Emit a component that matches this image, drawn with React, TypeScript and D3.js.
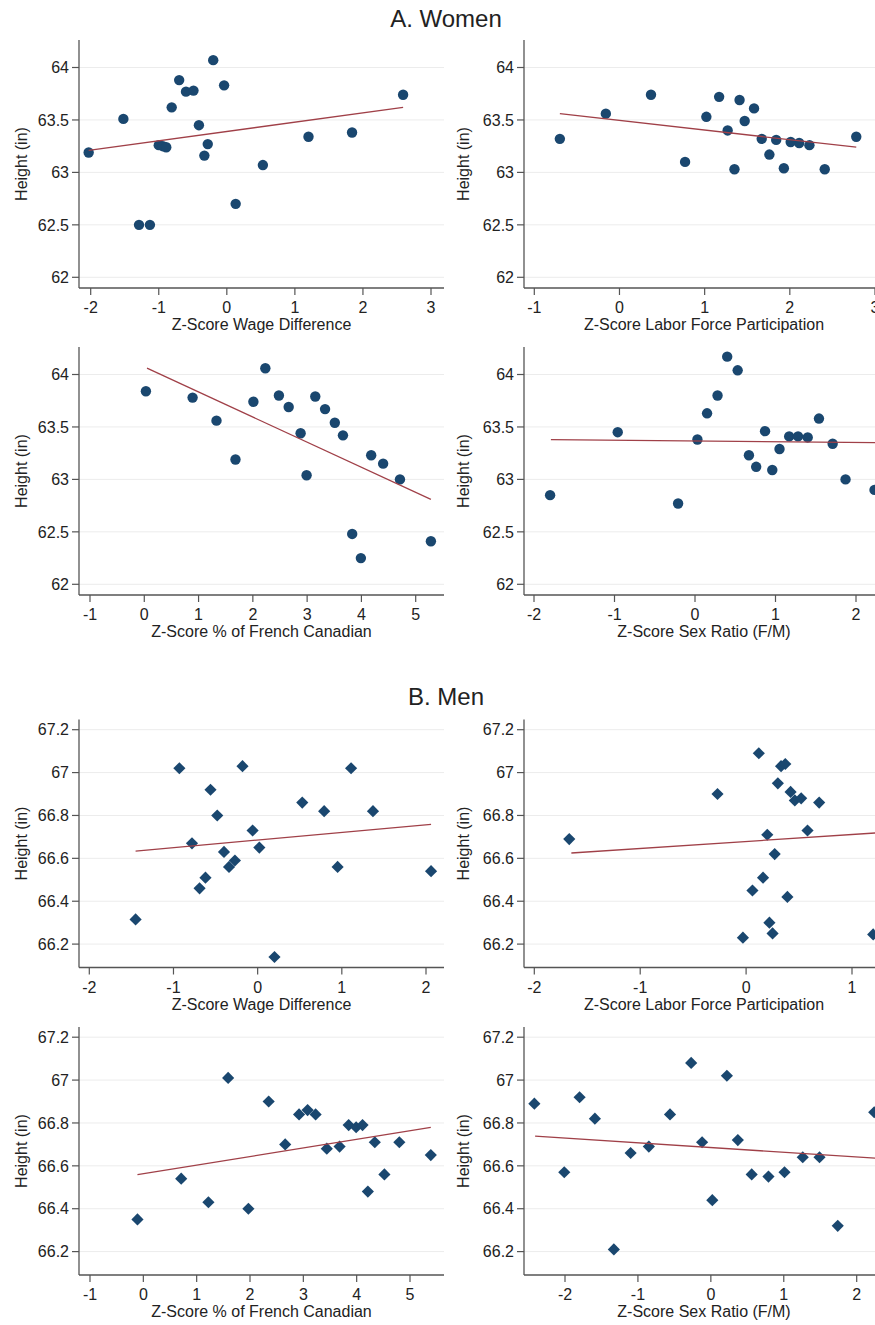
import * as d3 from "d3";

// ---- data ----

// A. Women
const womenWageX = [-2.03, -1.52, -1.29, -1.13, -0.7, -0.6, -0.49, -0.81, -0.41, -1.0, -0.94, -0.89, -0.28, -0.33, -0.2, -0.04, 0.13, 0.53, 1.2, 1.84, 2.59];
const womenWageY = [63.19, 63.51, 62.5, 62.5, 63.88, 63.77, 63.78, 63.62, 63.45, 63.26, 63.25, 63.24, 63.27, 63.16, 64.07, 63.83, 62.7, 63.07, 63.34, 63.38, 63.74];
const womenWageFit = [[-2.03, 63.21], [2.59, 63.62]];

const womenLfpX = [-0.7, -0.16, 0.37, 0.77, 1.02, 1.17, 1.27, 1.35, 1.41, 1.47, 1.58, 1.67, 1.76, 1.84, 1.93, 2.01, 2.11, 2.23, 2.41, 2.78];
const womenLfpY = [63.32, 63.56, 63.74, 63.1, 63.53, 63.72, 63.4, 63.03, 63.69, 63.49, 63.61, 63.32, 63.17, 63.31, 63.04, 63.29, 63.28, 63.26, 63.03, 63.34];
const womenLfpFit = [[-0.7, 63.56], [2.78, 63.24]];

const womenFcX = [0.03, 0.89, 1.33, 1.68, 2.01, 2.23, 2.48, 2.66, 2.88, 2.99, 3.15, 3.33, 3.51, 3.66, 3.83, 3.99, 4.18, 4.4, 4.71, 5.28];
const womenFcY = [63.84, 63.78, 63.56, 63.19, 63.74, 64.06, 63.8, 63.69, 63.44, 63.04, 63.79, 63.67, 63.54, 63.42, 62.48, 62.25, 63.23, 63.15, 63.0, 62.41];
const womenFcFit = [[0.05, 64.06], [5.28, 62.81]];

const womenSexX = [-1.8, -0.96, -0.21, 0.03, 0.15, 0.28, 0.4, 0.53, 0.67, 0.76, 0.87, 0.96, 1.05, 1.17, 1.28, 1.4, 1.54, 1.71, 1.87, 2.23];
const womenSexY = [62.85, 63.45, 62.77, 63.38, 63.63, 63.8, 64.17, 64.04, 63.23, 63.12, 63.46, 63.09, 63.29, 63.41, 63.41, 63.4, 63.58, 63.34, 63.0, 62.9];
const womenSexFit = [[-1.79, 63.38], [2.6, 63.347]];

// B. Men
const menWageX = [-1.45, -0.93, -0.78, -0.69, -0.62, -0.56, -0.48, -0.4, -0.34, -0.27, -0.18, -0.06, 0.02, 0.2, 0.53, 0.79, 0.95, 1.11, 1.37, 2.06];
const menWageY = [66.315, 67.02, 66.67, 66.46, 66.51, 66.92, 66.8, 66.63, 66.56, 66.59, 67.03, 66.73, 66.65, 66.14, 66.86, 66.82, 66.56, 67.02, 66.82, 66.54];
const menWageFit = [[-1.45, 66.634], [2.06, 66.758]];

const menLfpX = [-1.67, -0.27, -0.03, 0.06, 0.12, 0.16, 0.2, 0.22, 0.25, 0.27, 0.3, 0.33, 0.37, 0.39, 0.42, 0.46, 0.52, 0.58, 0.69, 1.2];
const menLfpY = [66.69, 66.9, 66.23, 66.45, 67.09, 66.51, 66.71, 66.3, 66.25, 66.62, 66.95, 67.03, 67.04, 66.42, 66.91, 66.87, 66.88, 66.73, 66.86, 66.245];
const menLfpFit = [[-1.65, 66.625], [1.4, 66.724]];

const menFcX = [-0.11, 0.71, 1.22, 1.59, 1.97, 2.35, 2.66, 2.92, 3.08, 3.23, 3.44, 3.68, 3.85, 3.99, 4.11, 4.21, 4.34, 4.52, 4.8, 5.39];
const menFcY = [66.35, 66.54, 66.43, 67.01, 66.4, 66.9, 66.7, 66.84, 66.86, 66.84, 66.68, 66.69, 66.79, 66.78, 66.79, 66.48, 66.71, 66.56, 66.71, 66.65];
const menFcFit = [[-0.11, 66.559], [5.39, 66.779]];

const menSexX = [-2.42, -2.01, -1.8, -1.59, -1.33, -1.1, -0.85, -0.56, -0.27, -0.12, 0.02, 0.22, 0.37, 0.56, 0.79, 1.01, 1.26, 1.49, 1.74, 2.24];
const menSexY = [66.89, 66.57, 66.92, 66.82, 66.21, 66.66, 66.69, 66.84, 67.08, 66.71, 66.44, 67.02, 66.72, 66.56, 66.55, 66.57, 66.64, 66.64, 66.32, 66.85];
const menSexFit = [[-2.41, 66.739], [2.5, 66.63]];

// tick labels
const womenYTicks = [62, 62.5, 63, 63.5, 64];
const menYTicks = [66.2, 66.4, 66.6, 66.8, 67, 67.2];
const ticksWageW = [-2, -1, 0, 1, 2, 3];
const ticksLfpW = [-1, 0, 1, 2, 3];
const ticksFc = [-1, 0, 1, 2, 3, 4, 5];
const ticksSex = [-2, -1, 0, 1, 2];
const ticksWageM = [-2, -1, 0, 1, 2];
const ticksLfpM = [-2, -1, 0, 1];

const labelWage = "Z-Score Wage Difference";
const labelLfp = "Z-Score Labor Force Participation";
const labelFc = "Z-Score % of French Canadian";
const labelSex = "Z-Score Sex Ratio (F/M)";

// ---- layout ----
const W = 875;
const H = 1325;
const FONT = "'Liberation Sans', Arial, sans-serif";
const NAVY = "#1a476f";
const FIT = "#a04048";
const AXIS = "#555";
const GRID = "#ececec";

const LEFT = { axisX: 79, right: 444, titleX: 21 };
const RIGHT = { axisX: 524, right: 884, titleX: 463 };

const panels = [
  { col: LEFT, top: 40, men: false, xs: womenWageX, ys: womenWageY, fit: womenWageFit, ticks: ticksWageW, label: labelWage, xd: [-2, 3], xr: [90.7, 431] },
  { col: RIGHT, top: 40, men: false, xs: womenLfpX, ys: womenLfpY, fit: womenLfpFit, ticks: ticksLfpW, label: labelLfp, xd: [-1, 3], xr: [534.3, 875] },
  { col: LEFT, top: 347, men: false, xs: womenFcX, ys: womenFcY, fit: womenFcFit, ticks: ticksFc, label: labelFc, xd: [-1, 5], xr: [90, 415.7] },
  { col: RIGHT, top: 347, men: false, xs: womenSexX, ys: womenSexY, fit: womenSexFit, ticks: ticksSex, label: labelSex, xd: [-2, 2], xr: [534, 856] },
  { col: LEFT, top: 719.5, men: true, xs: menWageX, ys: menWageY, fit: menWageFit, ticks: ticksWageM, label: labelWage, xd: [-2, 2], xr: [89.3, 426] },
  { col: RIGHT, top: 719.5, men: true, xs: menLfpX, ys: menLfpY, fit: menLfpFit, ticks: ticksLfpM, label: labelLfp, xd: [-2, 1], xr: [534.3, 852] },
  { col: LEFT, top: 1027, men: true, xs: menFcX, ys: menFcY, fit: menFcFit, ticks: ticksFc, label: labelFc, xd: [-1, 5], xr: [90, 410] },
  { col: RIGHT, top: 1027, men: true, xs: menSexX, ys: menSexY, fit: menSexFit, ticks: ticksSex, label: labelSex, xd: [-2, 2], xr: [565, 856.7] },
];

const PLOT_H = 248;
const diamond = d3.symbol().type(d3.symbolSquare).size(74)();

function Panel({ p }: { p: any }) {
  const x = d3.scaleLinear().domain(p.xd).range(p.xr);
  const y = p.men
    ? d3.scaleLinear().domain([66.2, 67.2]).range([p.top + 224.6, p.top + 10.2])
    : d3.scaleLinear().domain([62, 64]).range([p.top + 237.3, p.top + 27.5]);
  const yTicks = p.men ? menYTicks : womenYTicks;
  const bottom = p.top + PLOT_H;
  const ax = p.col.axisX;
  const line = d3
    .line<number[]>()
    .x((d) => x(d[0]))
    .y((d) => y(d[1]));

  return (
    <g>
      {/* gridlines */}
      {yTicks.map((t) => (
        <line key={"g" + t} x1={ax} x2={p.col.right} y1={y(t)} y2={y(t)} stroke={GRID} strokeWidth={1} />
      ))}
      {/* y axis */}
      <line x1={ax} x2={ax} y1={p.top} y2={bottom} stroke={AXIS} strokeWidth={1.3} />
      {yTicks.map((t) => (
        <g key={"y" + t}>
          <line x1={ax - 7} x2={ax} y1={y(t)} y2={y(t)} stroke={AXIS} strokeWidth={1.2} />
          <text x={ax - 10} y={y(t)} dy="0.36em" textAnchor="end" fontSize={16} fill="#222">
            {d3.format("")(t)}
          </text>
        </g>
      ))}
      <text
        transform={`translate(${p.col.titleX},${(p.top + bottom) / 2}) rotate(-90)`}
        textAnchor="middle"
        dy="0.36em"
        fontSize={16}
        fill="#222"
      >
        Height (in)
      </text>
      {/* x axis */}
      <line x1={ax} x2={p.col.right} y1={bottom} y2={bottom} stroke={AXIS} strokeWidth={1.3} />
      {p.ticks.map((t: number) => (
        <g key={"x" + t}>
          <line x1={x(t)} x2={x(t)} y1={bottom} y2={bottom + 7} stroke={AXIS} strokeWidth={1.2} />
          <text x={x(t)} y={bottom + 25} textAnchor="middle" fontSize={16} fill="#222">
            {String(t)}
          </text>
        </g>
      ))}
      <text x={(ax + p.col.right) / 2} y={bottom + 42} textAnchor="middle" fontSize={16} fill="#222">
        {p.label}
      </text>
      {/* markers */}
      {p.xs.map((v: number, i: number) =>
        p.men ? (
          <path key={i} d={diamond!} transform={`translate(${x(v)},${y(p.ys[i])}) rotate(45)`} fill={NAVY} />
        ) : (
          <circle key={i} cx={x(v)} cy={y(p.ys[i])} r={5.2} fill={NAVY} />
        )
      )}
      {/* fitted line */}
      <path d={line(p.fit)!} fill="none" stroke={FIT} strokeWidth={1.3} />
    </g>
  );
}

export default function App() {
  return (
    <svg
      width={W}
      height={H}
      style={{ position: "absolute", left: 0, top: 0, overflow: "hidden", background: "#fff" }}
      fontFamily={FONT}
    >
      <rect width={W} height={H} fill="#fff" />
      <text x={446} y={26.5} textAnchor="middle" fontSize={24} fill="#222">
        A. Women
      </text>
      <text x={446} y={705} textAnchor="middle" fontSize={24} fill="#222">
        B. Men
      </text>
      {panels.map((p, i) => (
        <Panel key={i} p={p} />
      ))}
    </svg>
  );
}
